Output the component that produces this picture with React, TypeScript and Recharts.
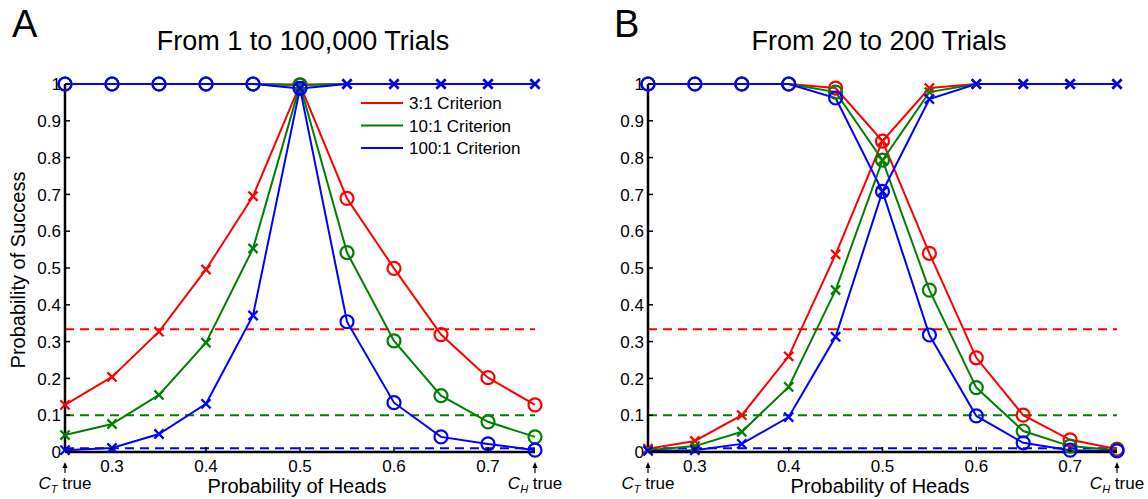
import React from "react";
import { LineChart, Line, XAxis, YAxis, ReferenceLine } from "recharts";

// probability of heads (x) for every simulated coin
const probHeads = [0.25, 0.3, 0.35, 0.4, 0.45, 0.5, 0.55, 0.6, 0.65, 0.7, 0.75];

// panel A: 1 to 100,000 trials. CT = tails-coin hypothesis, CH = heads-coin hypothesis
const aRedCT = [0.128, 0.204, 0.327, 0.496, 0.695, 0.998, 1, 1, 1, 1, 1];
const aGreenCT = [0.046, 0.076, 0.155, 0.297, 0.553, 0.997, 1, 1, 1, 1, 1];
const aBlueCT = [0.005, 0.011, 0.049, 0.131, 0.371, 0.988, 1, 1, 1, 1, 1];
const aRedCH = [1, 1, 1, 1, 1, 0.998, 0.689, 0.499, 0.319, 0.202, 0.128];
const aGreenCH = [1, 1, 1, 1, 1, 0.997, 0.542, 0.302, 0.153, 0.082, 0.041];
const aBlueCH = [1, 1, 1, 1, 1, 0.988, 0.354, 0.134, 0.041, 0.022, 0.005];

// panel B: 20 to 200 trials
const bRedCT = [0.009, 0.03, 0.1, 0.26, 0.537, 0.845, 0.989, 1, 1, 1, 1];
const bGreenCT = [0.005, 0.016, 0.055, 0.177, 0.44, 0.793, 0.978, 1, 1, 1, 1];
const bBlueCT = [0.003, 0.005, 0.022, 0.095, 0.313, 0.708, 0.959, 1, 1, 1, 1];
const bRedCH = [1, 1, 1, 1, 0.989, 0.845, 0.54, 0.256, 0.1, 0.033, 0.008];
const bGreenCH = [1, 1, 1, 1, 0.978, 0.793, 0.44, 0.175, 0.057, 0.016, 0.005];
const bBlueCH = [1, 1, 1, 1, 0.962, 0.708, 0.318, 0.098, 0.025, 0.005, 0.003];

const criteria = ["3:1 Criterion", "10:1 Criterion", "100:1 Criterion"];
const thresholds = [1 / 3, 0.1, 0.01];
const colors = ["#ff0000", "#008000", "#0000ff"];

const xTicks = [0.25, 0.3, 0.4, 0.5, 0.6, 0.7, 0.75];
const yTicks = [0, 0.1, 0.2, 0.3, 0.4, 0.5, 0.6, 0.7, 0.8, 0.9, 1];
const endLabels: Record<number, string> = { 0.25: "T", 0.75: "H" };

const FONT = "'Liberation Sans', Arial, Helvetica, sans-serif";
const W = 574;
const H = 499;

function buildRows(ct: number[][], ch: number[][]) {
  return probHeads.map((x, i) => {
    const row: Record<string, number> = { x };
    ct.forEach((s, c) => (row[`ct${c}`] = s[i]));
    ch.forEach((s, c) => (row[`ch${c}`] = s[i]));
    return row;
  });
}

const rowsA = buildRows([aRedCT, aGreenCT, aBlueCT], [aRedCH, aGreenCH, aBlueCH]);
const rowsB = buildRows([bRedCT, bGreenCT, bBlueCT], [bRedCH, bGreenCH, bBlueCH]);

const crossDot = (color: string, name: string) => (p: any) => {
  const { cx, cy, index } = p;
  const s = 4.6;
  return (
    <path
      key={`${name}-${index}`}
      d={`M${cx - s},${cy - s}L${cx + s},${cy + s}M${cx - s},${cy + s}L${cx + s},${cy - s}`}
      stroke={color}
      strokeWidth={2.3}
      fill="none"
    />
  );
};

const circleDot = (color: string, name: string) => (p: any) => {
  const { cx, cy, index } = p;
  return <circle key={`${name}-${index}`} cx={cx} cy={cy} r={6.5} stroke={color} strokeWidth={2.2} fill="none" />;
};

const YTick = (p: any) => {
  const { x, y, payload } = p;
  return (
    <g>
      <line x1={x} x2={x + 5} y1={y} y2={y} stroke="#000" strokeWidth={1.5} />
      <text x={x - 4} y={y} dy="0.36em" textAnchor="end" fontSize={17} fontFamily={FONT} fill="#000">
        {String(payload.value)}
      </text>
    </g>
  );
};

const XTick = (p: any) => {
  const { x, y, payload } = p;
  const sub = endLabels[payload.value];
  if (sub) {
    return (
      <g>
        <line x1={x} x2={x} y1={y + 13} y2={y + 21} stroke="#000" strokeWidth={1.2} />
        <path d={`M${x},${y + 10}L${x - 2.5},${y + 16}L${x + 2.5},${y + 16}Z`} fill="#000" />
        <text x={x} y={y + 37} textAnchor="middle" fontSize={17} fontFamily={FONT} fill="#000">
          <tspan fontStyle="italic">C</tspan>
          <tspan fontStyle="italic" fontSize={11} dy={4}>{sub}</tspan>
          <tspan dy={-4}> true</tspan>
        </text>
      </g>
    );
  }
  return (
    <g>
      <line x1={x} x2={x} y1={y} y2={y - 5} stroke="#000" strokeWidth={1.5} />
      <text x={x} y={y + 20} textAnchor="middle" fontSize={17} fontFamily={FONT} fill="#000">
        {String(payload.value)}
      </text>
    </g>
  );
};

function Panel({ rows, left, marginLeft, marginRight }: any) {
  return (
    <div style={{ position: "absolute", left, top: 0 }}>
      <LineChart
        width={W}
        height={H}
        data={rows}
        margin={{ top: 84, right: marginRight, left: marginLeft, bottom: 17 }}
      >
        <XAxis
          type="number"
          dataKey="x"
          domain={[0.25, 0.75]}
          ticks={xTicks}
          interval={0}
          tick={XTick}
          tickLine={false}
          tickSize={0}
          tickMargin={0}
          height={30}
          axisLine={{ stroke: "#000", strokeWidth: 2.5 }}
        />
        <YAxis
          type="number"
          domain={[0, 1]}
          ticks={yTicks}
          interval={0}
          tick={YTick}
          tickLine={false}
          tickSize={0}
          tickMargin={0}
          width={45}
          axisLine={{ stroke: "#000", strokeWidth: 2.5 }}
        />
        {thresholds.map((t, c) => (
          <ReferenceLine key={`ref${c}`} y={t} stroke={colors[c]} strokeWidth={2} strokeDasharray="9 6" />
        ))}
        {colors.flatMap((col, c) => [
          <Line
            key={`ct${c}`}
            dataKey={`ct${c}`}
            type="linear"
            stroke={col}
            strokeWidth={2}
            dot={crossDot(col, `ct${c}`)}
            activeDot={false}
            isAnimationActive={false}
          />,
          <Line
            key={`ch${c}`}
            dataKey={`ch${c}`}
            type="linear"
            stroke={col}
            strokeWidth={2}
            dot={circleDot(col, `ch${c}`)}
            activeDot={false}
            isAnimationActive={false}
          />,
        ])}
      </LineChart>
    </div>
  );
}

export default function App() {
  return (
    <div style={{ position: "absolute", left: 0, top: 0, width: 1148, height: 499, background: "#fff", fontFamily: FONT }}>
      <Panel rows={rowsA} left={0} marginLeft={20} marginRight={39} />
      <Panel rows={rowsB} left={574} marginLeft={29} marginRight={31} />
      <svg width={1148} height={499} style={{ position: "absolute", left: 0, top: 0, pointerEvents: "none" }}>
        <g fontFamily={FONT} fill="#000">
          <text x={12} y={37} fontSize={38}>A</text>
          <text x={614} y={37} fontSize={38}>B</text>
          <text x={303} y={50} fontSize={27} textAnchor="middle">From 1 to 100,000 Trials</text>
          <text x={879} y={50} fontSize={27} textAnchor="middle">From 20 to 200 Trials</text>
          <text x={297} y={493} fontSize={20} textAnchor="middle">Probability of Heads</text>
          <text x={880} y={493} fontSize={20} textAnchor="middle">Probability of Heads</text>
          <text x={0} y={0} fontSize={20} textAnchor="middle" transform="translate(25,270) rotate(-90)">
            Probability of Success
          </text>
          {criteria.map((name, c) => (
            <g key={name}>
              <line x1={361} x2={403} y1={103 + c * 22.5} y2={103 + c * 22.5} stroke={colors[c]} strokeWidth={2} />
              <text x={409} y={103 + c * 22.5} dy="0.36em" fontSize={17}>{name}</text>
            </g>
          ))}
        </g>
      </svg>
    </div>
  );
}
